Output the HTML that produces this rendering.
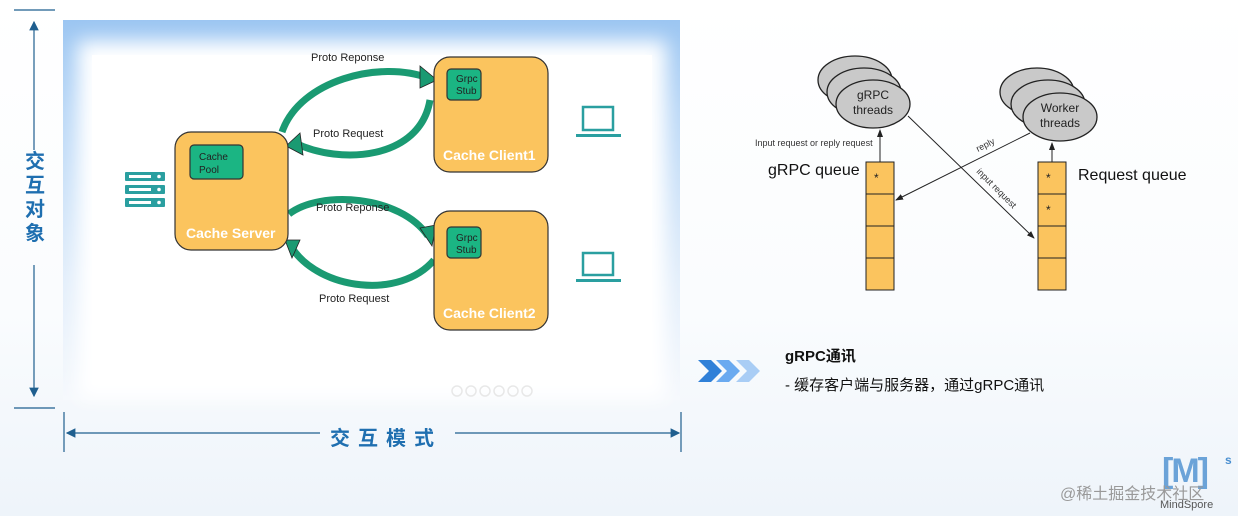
<!DOCTYPE html>
<html><head><meta charset="utf-8"><style>
body{margin:0;width:1238px;height:516px;overflow:hidden;background:linear-gradient(180deg,#fff 0%,#fafcfe 60%,#eef4fa 100%);font-family:"Liberation Sans","Noto Sans CJK SC",sans-serif;position:relative}
.a{position:absolute}
</style></head><body>
<!-- left panel -->
<div class="a" style="left:63px;top:20px;width:617px;height:380px;background:linear-gradient(180deg,#9cc6f2 0%,#bcd9f7 25%,#e4effb 70%,#f6f9fd 100%)"></div>
<div class="a" style="left:92px;top:55px;width:560px;height:330px;background:#fff;box-shadow:0 0 18px 14px #fff"></div>
<svg class="a" style="left:0;top:0" width="1238" height="516">
<defs><marker id="m" markerWidth="8" markerHeight="8" refX="7" refY="4" orient="auto"><path d="M0,1 L8,4 L0,7z" fill="#222"/></marker>
<marker id="b" markerWidth="8" markerHeight="8" refX="7" refY="4" orient="auto"><path d="M0,0 L8,4 L0,8z" fill="#1f5f8f"/></marker></defs>
<!-- axes -->
<g stroke="#1f5f8f" stroke-width="1.2" fill="none">
<line x1="14" y1="10" x2="55" y2="10"/><line x1="14" y1="408" x2="55" y2="408"/>
<line x1="34" y1="150" x2="34" y2="22" marker-end="url(#b)"/><line x1="34" y1="265" x2="34" y2="396" marker-end="url(#b)"/>
<line x1="64" y1="412" x2="64" y2="452"/><line x1="681" y1="412" x2="681" y2="452"/>
<line x1="320" y1="433" x2="67" y2="433" marker-end="url(#b)"/><line x1="455" y1="433" x2="679" y2="433" marker-end="url(#b)"/>
</g>
<!-- green arrows -->
<g fill="none" stroke="#222" stroke-width="1">
<path d="M282,132 C300,80 380,60 428,78" stroke="#1a9a72" stroke-width="7"/>
<path d="M430,100 C420,160 340,165 295,143" stroke="#1a9a72" stroke-width="7"/>
<path d="M289,214 C320,190 400,195 428,236" stroke="#1a9a72" stroke-width="7"/>
<path d="M434,260 C400,300 320,290 292,248" stroke="#1a9a72" stroke-width="7"/>
</g>
<g fill="#1a9a72" stroke="#222" stroke-width="0.8">
<path d="M420,66 L437,80 L420,88z"/><path d="M300,133 L286,146 L303,155z"/>
<path d="M420,228 L432,246 L436,225z"/><path d="M285,240 L292,258 L300,240z"/>
</g>
<!-- boxes -->
<g stroke="#333" stroke-width="1.2">
<rect x="175" y="132" width="113" height="118" rx="16" fill="#fbc45e"/>
<rect x="434" y="57" width="114" height="115" rx="16" fill="#fbc45e"/>
<rect x="434" y="211" width="114" height="119" rx="16" fill="#fbc45e"/>
<rect x="190" y="145" width="53" height="34" rx="4" fill="#1bb583"/>
<rect x="447" y="69" width="34" height="31" rx="4" fill="#1bb583"/>
<rect x="447" y="227" width="34" height="31" rx="4" fill="#1bb583"/>
</g>
<g font-size="10" fill="#222"><text x="199" y="160">Cache</text><text x="199" y="173">Pool</text>
<text x="456" y="82">Grpc</text><text x="456" y="94">Stub</text><text x="456" y="241">Grpc</text><text x="456" y="253">Stub</text></g>
<g font-size="14" fill="#fff" font-weight="bold"><text x="186" y="238">Cache Server</text><text x="443" y="160">Cache Client1</text><text x="443" y="318">Cache Client2</text></g>
<g font-size="11" fill="#222"><text x="311" y="61">Proto Reponse</text><text x="313" y="137">Proto Request</text><text x="316" y="211">Proto Reponse</text><text x="319" y="302">Proto Request</text></g>
<!-- server icon -->
<g fill="#2a9fa0"><rect x="125" y="172" width="40" height="9" rx="1"/><rect x="125" y="185" width="40" height="9" rx="1"/><rect x="125" y="198" width="40" height="9" rx="1"/></g>
<g fill="#fff"><rect x="129" y="175" width="22" height="3"/><rect x="129" y="188" width="22" height="3"/><rect x="129" y="201" width="22" height="3"/><circle cx="159" cy="176.5" r="1.8"/><circle cx="159" cy="189.5" r="1.8"/><circle cx="159" cy="202.5" r="1.8"/></g>
<!-- laptops -->
<g fill="none" stroke="#2a9fa0" stroke-width="2.5"><rect x="583" y="107" width="30" height="23"/><rect x="583" y="253" width="30" height="22"/></g>
<g fill="#2a9fa0"><rect x="576" y="134" width="45" height="3"/><rect x="576" y="279" width="45" height="3"/></g>
<g fill="none" stroke="#e8e8e8" stroke-width="1.5"><circle cx="457" cy="391" r="5"/><circle cx="471" cy="391" r="5"/><circle cx="485" cy="391" r="5"/><circle cx="499" cy="391" r="5"/><circle cx="513" cy="391" r="5"/><circle cx="527" cy="391" r="5"/></g>
<!-- right diagram -->
<g stroke="#222" stroke-width="1.3" fill="#c9c9c9">
<ellipse cx="855" cy="80" rx="37" ry="24"/><ellipse cx="864" cy="92" rx="37" ry="24"/><ellipse cx="873" cy="104" rx="37" ry="24"/>
<ellipse cx="1037" cy="92" rx="37" ry="24"/><ellipse cx="1048" cy="104" rx="37" ry="24"/><ellipse cx="1060" cy="117" rx="37" ry="24"/>
</g>
<g font-size="12" fill="#222" text-anchor="middle"><text x="873" y="99">gRPC</text><text x="873" y="114">threads</text><text x="1060" y="112">Worker</text><text x="1060" y="127">threads</text></g>
<g stroke="#222" stroke-width="1" fill="#fbc45e">
<rect x="866" y="162" width="28" height="32"/><rect x="866" y="194" width="28" height="32"/><rect x="866" y="226" width="28" height="32"/><rect x="866" y="258" width="28" height="32"/>
<rect x="1038" y="162" width="28" height="32"/><rect x="1038" y="194" width="28" height="32"/><rect x="1038" y="226" width="28" height="32"/><rect x="1038" y="258" width="28" height="32"/>
</g>
<g font-size="12" fill="#222"><text x="874" y="182">*</text><text x="1046" y="182">*</text><text x="1046" y="214">*</text></g>
<g stroke="#222" stroke-width="1" fill="none">
<line x1="880" y1="162" x2="880" y2="130" marker-end="url(#m)"/><line x1="1052" y1="162" x2="1052" y2="143" marker-end="url(#m)"/>
<line x1="908" y1="116" x2="1034" y2="238" marker-end="url(#m)"/><line x1="1030" y1="133" x2="896" y2="200" marker-end="url(#m)"/>
</g>
<text x="755" y="146" font-size="9" fill="#333">Input request or reply request</text>
<text font-size="9" fill="#333" transform="translate(978,152) rotate(-27)">reply</text>
<text font-size="9" fill="#333" transform="translate(976,172) rotate(45)">input request</text>
<text x="768" y="175" font-size="16" fill="#111">gRPC queue</text><text x="1078" y="180" font-size="16" fill="#111">Request queue</text>
<!-- chevrons -->
<path d="M698,360 L711,360 L722,371 L711,382 L698,382 L709,371z" fill="#2f80d8"/>
<path d="M716,360 L729,360 L740,371 L729,382 L716,382 L727,371z" fill="#6aaaf0"/>
<path d="M736,360 L749,360 L760,371 L749,382 L736,382 L747,371z" fill="#a9cdf5"/>
</svg>
<div class="a" style="left:22px;top:150px;width:26px;font-size:20px;font-weight:bold;color:#1f6fb0;line-height:24px;text-align:center">交<br>互<br>对<br>象</div>
<div class="a" style="left:330px;top:422px;font-size:20px;font-weight:bold;color:#1f6fb0;letter-spacing:8px">交互模式</div>
<div class="a" style="left:785px;top:345px;font-size:15px;font-weight:bold;color:#111">gRPC通讯</div>
<div class="a" style="left:785px;top:374px;font-size:15px;color:#111">- 缓存客户端与服务器，通过gRPC通讯</div>
<div class="a" style="left:1162px;top:452px;font-size:34px;font-weight:bold;color:#4a8fd0;letter-spacing:-2px;opacity:.8">[M]</div>
<div class="a" style="left:1225px;top:453px;font-size:12px;font-weight:bold;color:#4a8fd0">s</div>
<div class="a" style="left:1060px;top:480px;font-size:16px;color:#999">@稀土掘金技术社区</div>
<div class="a" style="left:1160px;top:499px;font-size:11px;color:#555">MindSpore</div>
</body></html>
